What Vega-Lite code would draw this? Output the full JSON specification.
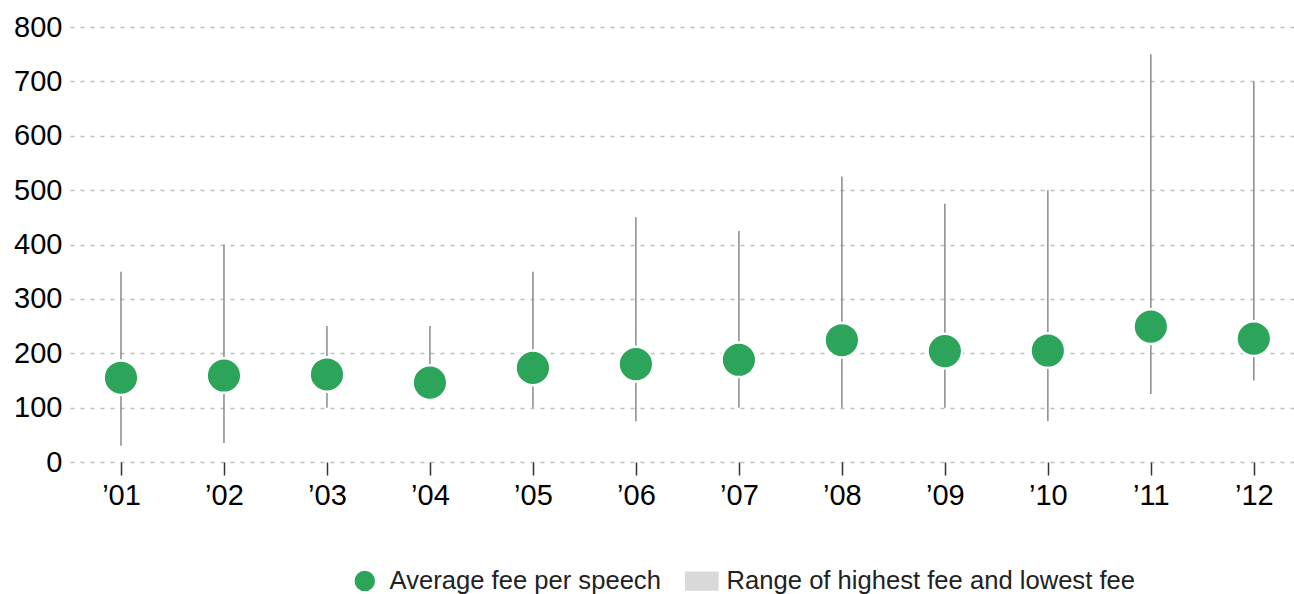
{
  "$schema": "https://vega.github.io/schema/vega-lite/v6.json",
  "width": 1224,
  "height": 435,
  "autosize": {"type": "none"},
  "padding": {"left": 70, "top": 27, "right": 0, "bottom": 132},
  "background": "white",
  "config": {
    "view": {"stroke": null},
    "font": "Liberation Sans"
  },
  "data": {
    "values": [
      {"year": 2001, "avg": 155, "low": 30, "high": 350},
      {"year": 2002, "avg": 159, "low": 35, "high": 400},
      {"year": 2003, "avg": 161, "low": 100, "high": 250},
      {"year": 2004, "avg": 146, "low": 125, "high": 250},
      {"year": 2005, "avg": 173, "low": 100, "high": 350},
      {"year": 2006, "avg": 180, "low": 75, "high": 450},
      {"year": 2007, "avg": 188, "low": 100, "high": 425},
      {"year": 2008, "avg": 224, "low": 100, "high": 525},
      {"year": 2009, "avg": 204, "low": 100, "high": 475},
      {"year": 2010, "avg": 205, "low": 75, "high": 500},
      {"year": 2011, "avg": 249, "low": 125, "high": 750},
      {"year": 2012, "avg": 227, "low": 150, "high": 700}
    ]
  },
  "encoding": {
    "x": {
      "field": "year",
      "type": "quantitative",
      "scale": {"domain": [2000.505, 2012.39], "nice": false, "zero": false},
      "axis": {
        "title": null,
        "values": [2001, 2002, 2003, 2004, 2005, 2006, 2007, 2008, 2009, 2010, 2011, 2012],
        "format": "d",
        "labelExpr": "'’' + substring(datum.label, 2)",
        "grid": false,
        "domain": false,
        "ticks": true,
        "tickColor": "#333333",
        "tickSize": 13,
        "tickWidth": 1.5,
        "labelFontSize": 29,
        "labelColor": "#000000",
        "labelPadding": 6,
        "labelFont": "Liberation Sans"
      }
    }
  },
  "layer": [
    {
      "mark": {"type": "rule", "color": "#8a8a8a", "strokeWidth": 1.5},
      "encoding": {
        "y": {
          "field": "low",
          "type": "quantitative",
          "scale": {"domain": [0, 800], "nice": false},
          "axis": {
            "title": null,
            "values": [0, 100, 200, 300, 400, 500, 600, 700, 800],
            "domain": false,
            "ticks": false,
            "grid": true,
            "gridColor": "#bdbdbd",
            "gridDash": [4, 6],
            "gridWidth": 1.5,
            "labelFontSize": 29,
            "labelColor": "#000000",
            "labelPadding": 8,
            "labelFont": "Liberation Sans"
          }
        },
        "y2": {"field": "high"}
      }
    },
    {
      "mark": {"type": "point", "filled": true, "size": 1200, "stroke": "white", "strokeWidth": 2.5, "opacity": 1, "strokeOpacity": 1},
      "encoding": {
        "y": {"field": "avg", "type": "quantitative"},
        "color": {
          "datum": "Average fee per speech",
          "type": "nominal",
          "scale": {
            "domain": ["Average fee per speech", "Range of highest fee and lowest fee"],
            "range": ["#2ca55a", "#d9d9d9"]
          },
          "legend": {
            "title": null,
            "orient": "none",
            "legendX": 282,
            "legendY": 541,
            "direction": "horizontal",
            "symbolSize": 484,
            "labelFontSize": 25.6,
            "labelFont": "Liberation Sans",
            "labelColor": "#222222",
            "labelLimit": 0,
            "labelOffset": 12,
            "columnPadding": 20
          }
        },
        "shape": {
          "datum": "Average fee per speech",
          "type": "nominal",
          "scale": {
            "domain": ["Average fee per speech", "Range of highest fee and lowest fee"],
            "range": ["circle", "M-1.6,-0.95H1.6V0.95H-1.6Z"]
          },
          "legend": {
            "title": null,
            "orient": "none",
            "legendX": 282,
            "legendY": 541,
            "direction": "horizontal",
            "symbolSize": 484,
            "labelFontSize": 25.6,
            "labelFont": "Liberation Sans",
            "labelColor": "#222222",
            "labelLimit": 0,
            "labelOffset": 12,
            "columnPadding": 20
          }
        }
      }
    }
  ]
}
